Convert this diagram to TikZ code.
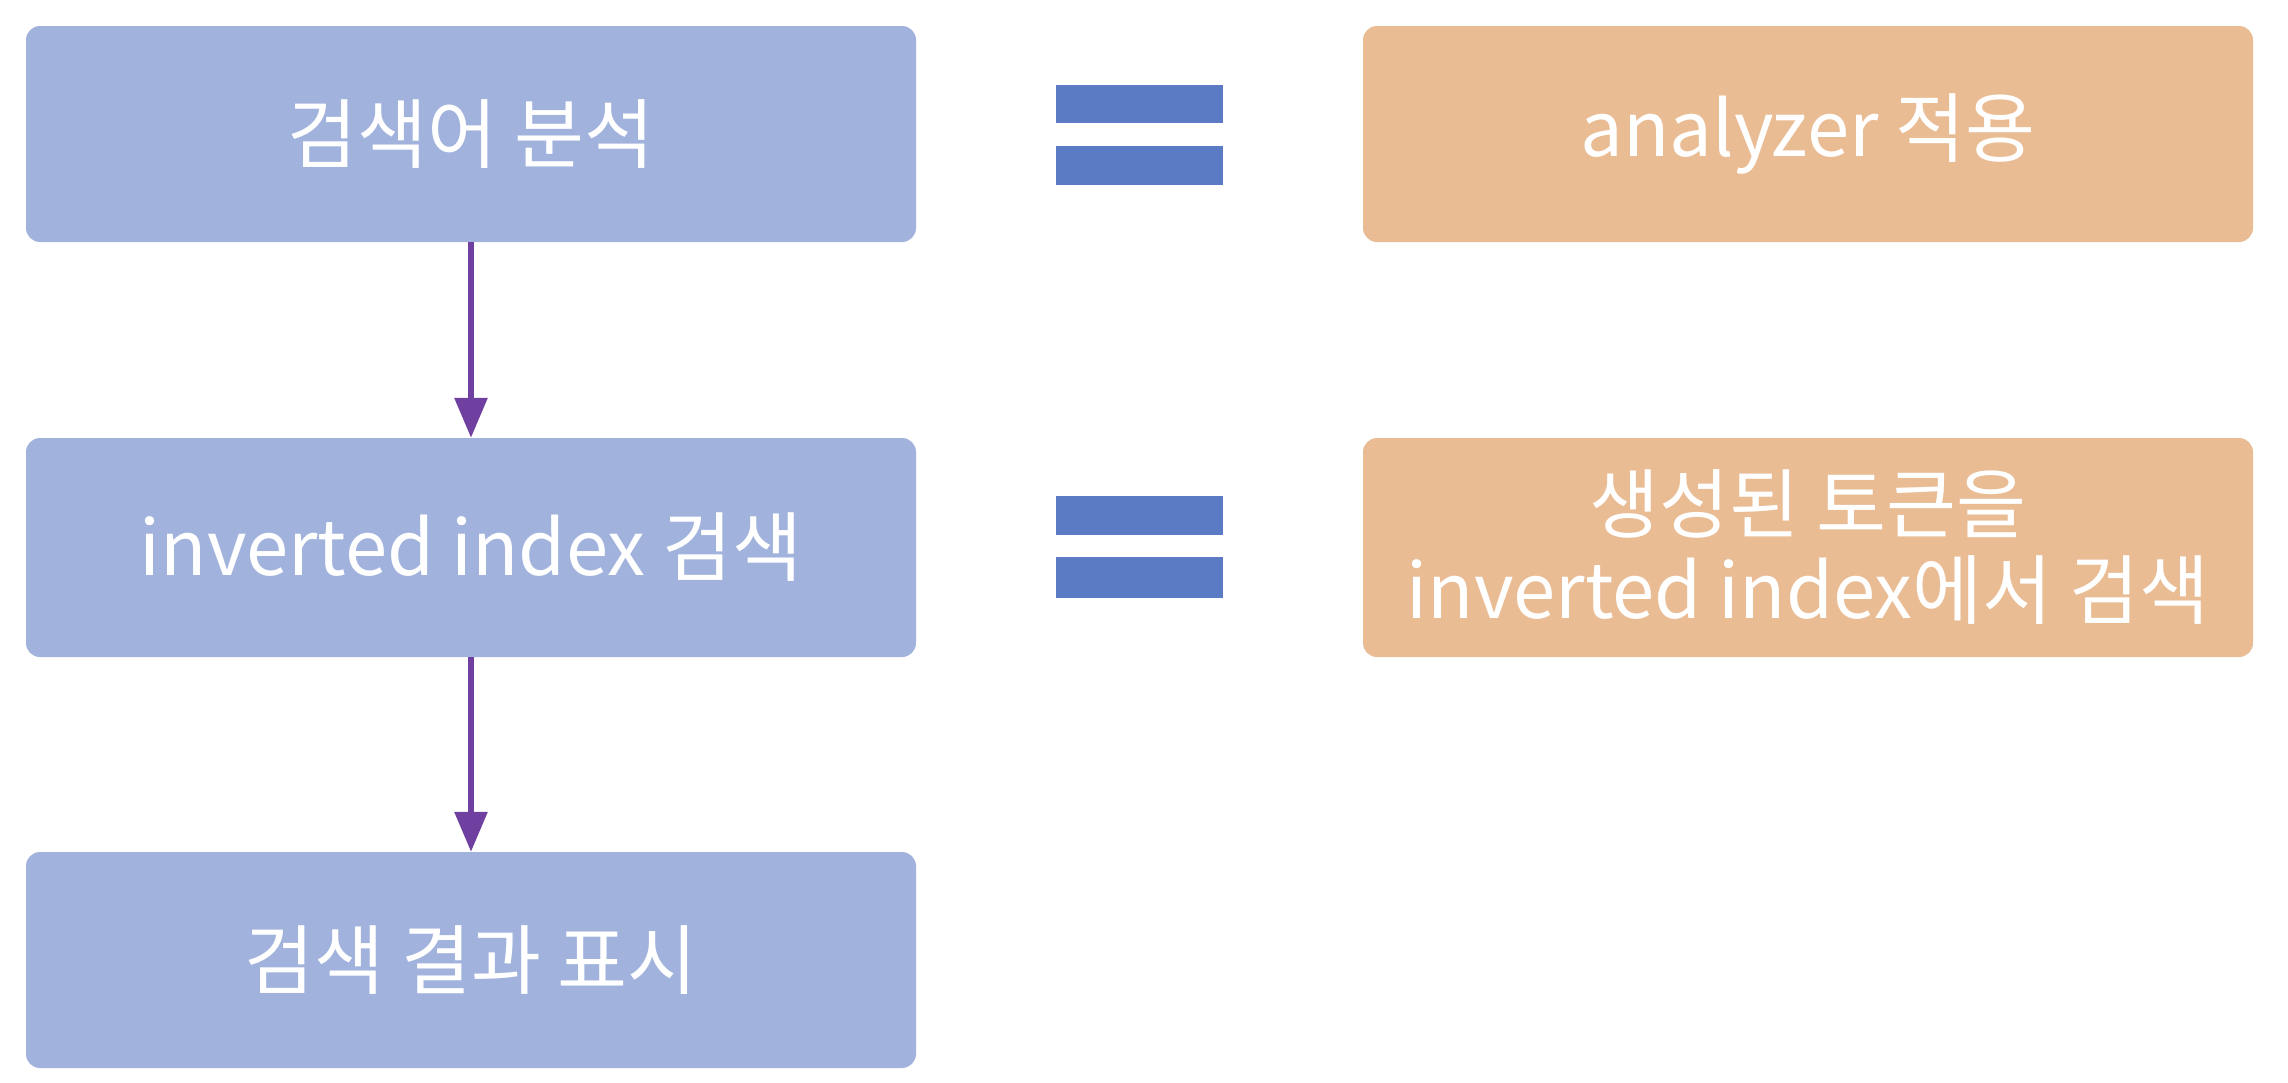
\documentclass[tikz,border=0pt]{standalone}
\usepackage{fontspec}
\setmainfont{Noto Sans CJK KR}
\usetikzlibrary{arrows.meta}
\definecolor{boxblue}{RGB}{161,178,221}
\definecolor{boxorange}{RGB}{234,188,148}
\definecolor{eqblue}{RGB}{91,123,196}
\definecolor{arrowpurple}{RGB}{112,64,160}
\tikzset{
  bluebox/.style={fill=boxblue, draw=none, rounded corners=14pt, minimum width=890pt, minimum height=216pt, inner sep=0pt, text=white, font=\fontsize{76}{86}\selectfont, align=center},
  orangebox/.style={bluebox, fill=boxorange},
  flowarrow/.style={draw=arrowpurple, line width=6pt, -{Triangle[length=40pt,width=32pt]}},
  eqbar/.style={fill=eqblue, draw=none}
}
\begin{document}
\begin{tikzpicture}[x=1pt,y=-1pt]
\useasboundingbox[fill=white] (0,0) rectangle (2288,1082);
\node[bluebox, minimum height=216pt] (b1) at (471,134) {검색어 분석};
\node[bluebox, minimum height=219pt] (b2) at (471,547.5) {inverted index 검색};
\node[bluebox, minimum height=216pt] (b3) at (471,960) {검색 결과 표시};
\node[orangebox, minimum height=216pt] (o1) at (1808,134) {analyzer 적용};
\node[orangebox, minimum height=219pt] (o2) at (1808,547.5) {생성된 토큰을\\inverted index에서 검색};
\draw[flowarrow] (b1.south) -- (b2.north);
\draw[flowarrow] (b2.south) -- (b3.north);
\fill[eqbar] (1056,85) rectangle (1223,123);
\fill[eqbar] (1056,146) rectangle (1223,185);
\fill[eqbar] (1056,496) rectangle (1223,535);
\fill[eqbar] (1056,557) rectangle (1223,598);
\end{tikzpicture}
\end{document}
